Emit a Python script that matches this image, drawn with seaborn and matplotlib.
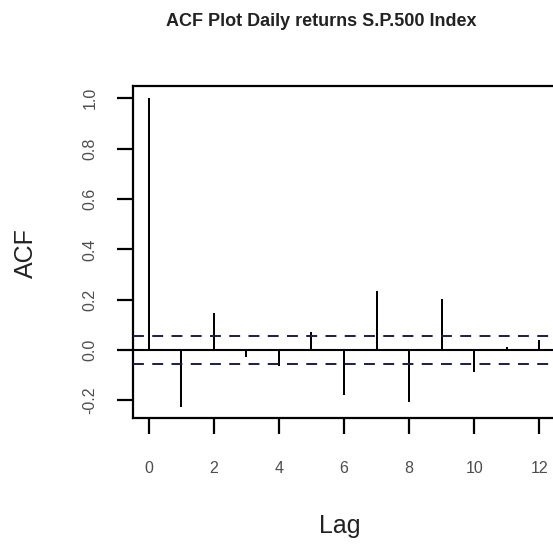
import matplotlib
matplotlib.use("Agg")
import matplotlib.pyplot as plt
import seaborn as sns
import pandas as pd

# Data
lags = [0, 1, 2, 3, 4, 5, 6, 7, 8, 9, 10, 11, 12]
acf_values = [1.0, -0.226, 0.149, -0.026, -0.062, 0.072, -0.180, 0.234, -0.206, 0.204, -0.088, 0.013, 0.041]
ci_bound = 0.056
x_ticks = [0, 2, 4, 6, 8, 10, 12]
y_ticks = [-0.2, 0.0, 0.2, 0.4, 0.6, 0.8, 1.0]
y_tick_labels = ["-0.2", "0.0", "0.2", "0.4", "0.6", "0.8", "1.0"]
title = "ACF Plot Daily returns S.P.500 Index"
x_label = "Lag"
y_label = "ACF"

sns.set_style("white")
plt.rcParams["font.family"] = ["Liberation Sans", "DejaVu Sans"]

df = pd.DataFrame({"lag": lags, "acf": acf_values})

W, H = 553, 546
fig = plt.figure(figsize=(W / 100, H / 100), dpi=100)
ax = fig.add_axes([133 / W, 128 / H, 422 / W, 332 / H])

sns.barplot(data=df, x="lag", y="acf", native_scale=True, width=0.065,
            color="black", errorbar=None, linewidth=0, saturation=1, ax=ax)

ax.axhline(0, color="black", lw=1.5, zorder=3)
for b in (ci_bound, -ci_bound):
    ax.axhline(b, color="#1c1c4a", lw=1.4, dashes=(5.6, 4.3), zorder=3)

ax.set_xlim(-0.48, 12.48)
ax.set_ylim(-0.27, 1.049)

ax.set_xticks(x_ticks)
ax.set_xticklabels([str(t) for t in x_ticks])
ax.set_yticks(y_ticks)
ax.set_yticklabels(y_tick_labels)

ax.tick_params(axis="both", bottom=True, left=True, length=11.5, width=1.6,
               color="black", labelsize=11.5, labelcolor="#4d4d4d")
ax.tick_params(axis="x", pad=25)
ax.tick_params(axis="y", pad=19.5)
for lab in ax.get_yticklabels():
    lab.set_rotation(90)
    lab.set_ha("center")
    lab.set_va("center")
for lab in ax.get_xticklabels():
    lab.set_va("center")

for sp in ax.spines.values():
    sp.set_visible(True)
    sp.set_color("black")
    sp.set_linewidth(1.6)

ax.set_xlabel("")
ax.set_ylabel("")

fig.text(321 / W, 1 - 21 / H, title, ha="center", va="center",
         fontsize=13, fontweight="bold", color="#222222")
fig.text(340 / W, 1 - 526 / H, x_label, ha="center", va="center",
         fontsize=18, color="#222222")
fig.text(26 / W, 1 - 253 / H, y_label, ha="center", va="center",
         fontsize=18, rotation=90, color="#222222")

fig.savefig("out.png", dpi=100)
